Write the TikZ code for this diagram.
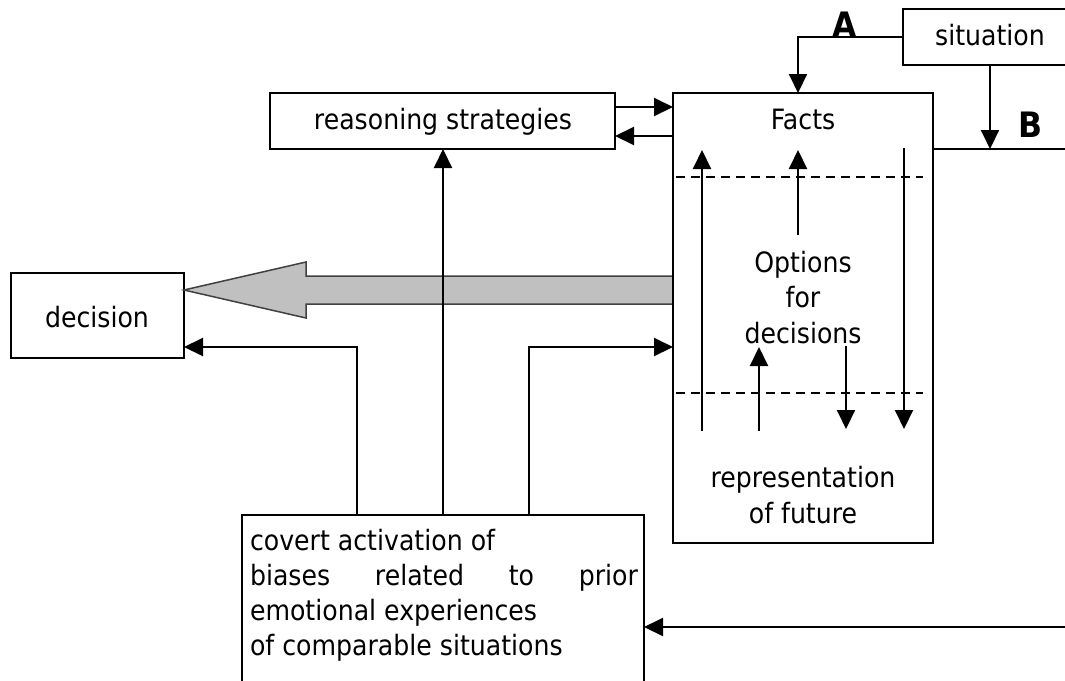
\documentclass[tikz,border=0pt]{standalone}
\usepackage{fontspec}
\setmainfont{DejaVu Sans}[FakeStretch=0.9]
\usetikzlibrary{arrows.meta}
\definecolor{greyfill}{RGB}{192,192,192}
\definecolor{greyline}{RGB}{64,64,64}
\begin{document}
\begin{tikzpicture}[x=1pt,y=-1pt,line width=2pt,
  box/.style={draw,line width=2pt,inner sep=0pt,outer sep=0pt},
  arr/.style={-{Triangle[length=19pt,width=18pt]},line width=2pt},
  dsh/.style={line width=2pt,dash pattern=on 9pt off 6pt},
  lbl/.style={font=\fontsize{28}{35}\selectfont,inner sep=0pt,anchor=base},
  lbll/.style={font=\fontsize{28}{35}\selectfont,inner sep=0pt,anchor=base west},
  bold/.style={font=\fontsize{35}{40}\selectfont\bfseries,inner sep=0pt,anchor=base}]
\useasboundingbox (0,0) rectangle (1065,680);
\clip (0,0) rectangle (1065,680);
% boxes
\node[box,minimum width=260pt,minimum height=450pt] (facts) at (803,318) {};
\node[box,minimum width=180pt,minimum height=56pt] (sit) at (993,37) {};
\node[box,minimum width=345pt,minimum height=56pt] (reason) at (442.5,121) {};
\node[box,minimum width=173pt,minimum height=85pt] (dec) at (97.5,315.5) {};
\node[box,minimum width=402pt,minimum height=200pt] (cov) at (443,615) {};
% texts
\node[lbl] (sitt) at (990,45) {situation};
\node[lbl] (reasont) at (443,129) {reasoning strategies};
\node[lbl] (dect) at (97,327) {decision};
\node[lbl] (factst) at (803,129) {Facts};
\node[lbl] (opt1) at (803,272) {Options};
\node[lbl] (opt2) at (803,307) {for};
\node[lbl] (opt3) at (803,343) {decisions};
\node[lbl] (rep1) at (803,487) {representation};
\node[lbl] (rep2) at (803,523) {of future};
\node[lbll] (cov1) at (249,550) {covert activation of};
\node[lbll] (cov2) at (249,585) {\makebox[388pt][s]{biases related to prior}};
\node[lbll] (cov3) at (249,620) {emotional experiences};
\node[lbll] (cov4) at (249,655) {of comparable situations};
\node[bold] (la) at (845,37) {A};
\node[bold] (lb) at (1030,137) {B};
% coordinates
\coordinate (aturn) at (798,37);
\coordinate (bx) at (990,149);
\coordinate (redge) at (1065,149);
\coordinate (r1) at (0,107);
\coordinate (r2) at (0,136);
\coordinate (j1) at (357,347);
\coordinate (j3) at (529,347);
\coordinate (rin) at (1065,627);
\coordinate (tipy) at (0,290);
\coordinate (d1s) at (676,177);
\coordinate (d1e) at (923,177);
\coordinate (d2s) at (676,393);
\coordinate (d2e) at (923,393);
\coordinate (u1a) at (702,431);
\coordinate (u1b) at (702,150);
\coordinate (u2a) at (798,235);
\coordinate (u2b) at (798,150);
\coordinate (u3a) at (759,431);
\coordinate (u3b) at (759,347);
\coordinate (d3a) at (846,346);
\coordinate (d3b) at (846,429);
\coordinate (d4a) at (904,148);
\coordinate (d4b) at (904,429);
% big grey arrow
\draw[fill=greyfill,draw=greyline,line width=1.5pt]
  (facts.west |- 0,276) -- (306,276) -- (306,262) -- (dec.east |- tipy)
  -- (306,318) -- (306,304) -- (facts.west |- 0,304);
\draw[line width=2pt] (facts.north west) -- (facts.south west);
% connectors
\draw[arr] (sit.west) -| (facts.north -| aturn);
\draw[arr] (sit.south -| bx) -- (bx);
\draw (facts.east |- bx) -- (redge);
\draw[arr] (reason.east |- r1) -- (facts.west |- r1);
\draw[arr] (facts.west |- r2) -- (reason.east |- r2);
\draw[arr] (cov.north -| j1) |- (dec.east |- j1);
\draw[arr] (cov.north) -- (reason.south -| cov.north);
\draw[arr] (cov.north -| j3) |- (facts.west |- j3);
\draw[arr] (rin) -- (cov.east |- rin);
% inside facts
\draw[dsh] (d1s) -- (d1e);
\draw[dsh] (d2s) -- (d2e);
\draw[arr] (u1a) -- (u1b);
\draw[arr] (u2a) -- (u2b);
\draw[arr] (u3a) -- (u3b);
\draw[arr] (d3a) -- (d3b);
\draw[arr] (d4a) -- (d4b);
\end{tikzpicture}
\end{document}
